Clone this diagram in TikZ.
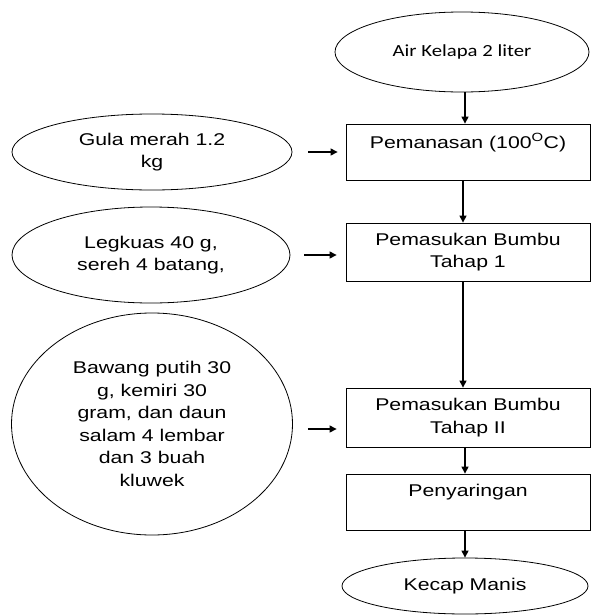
\documentclass[tikz,border=0pt]{standalone}
\usepackage{fontspec}
\setmainfont[FakeStretch=1.25]{Liberation Sans}
\newfontfamily\calibri[FakeStretch=1.22]{Carlito}
\usetikzlibrary{shapes.geometric,arrows.meta}

\begin{document}
\begin{tikzpicture}[x=1pt,y=-1pt,
		every node/.style={font=\fontsize{17}{22.5}\selectfont,align=center,inner sep=0pt},
		bahan/.style={draw,ellipse,line width=0.8pt},
		proses/.style={draw,rectangle,line width=0.8pt,minimum width=244pt},
		panah/.style={-{Triangle[length=7pt,width=7pt]},line width=1.1pt}]
			\useasboundingbox (0,0) rectangle (591,616);
			\node[bahan,minimum width=254pt,minimum height=80pt] (air) at (462,52) {\calibri Air Kelapa 2 liter};
			\node[proses,minimum height=56pt] (panas) at (468,152) {Pemanasan (100\textsuperscript{O}C)\\ ~};
			\node[proses,minimum height=58pt] (bumbu1) at (468,252) {Pemasukan Bumbu\\Tahap 1};
			\node[proses,minimum height=59pt] (bumbu2) at (468,417.5) {Pemasukan Bumbu\\Tahap II};
			\node[proses,minimum height=56pt] (saring) at (468,502) {Penyaringan\\ ~};
			\node[bahan,minimum width=246pt,minimum height=56pt] (kecap) at (465,586) {Kecap Manis};
			\node[bahan,minimum width=280pt,minimum height=76pt] (gula) at (152,152) {Gula merah 1.2\\kg};
			\node[bahan,minimum width=278pt,minimum height=96pt] (lengkuas) at (151,255) {Legkuas 40 g,\\sereh 4 batang,};
			\node[bahan,minimum width=281pt,minimum height=222pt] (bawang) at (152,424) {Bawang putih 30\\g, kemiri 30\\gram, dan daun\\salam 4 lembar\\dan 3 buah\\kluwek};
			\draw[panah] (air.south) ++(3,0) -- (panas.north -| 465,0);
			\draw[panah] (panas.south -| 463,0) -- (bumbu1.north -| 463,0);
			\draw[panah] (bumbu1.south -| 463,0) -- (bumbu2.north -| 463,0);
			\draw[panah] (bumbu2.south -| 465,0) -- (saring.north -| 465,0);
			\draw[panah] (saring.south -| 465,0) -- (kecap.north -| 465,0);
			\draw[panah,shorten <=16pt,shorten >=8pt] (gula.east) -- (gula.east -| panas.west);
			\draw[panah,shorten <=14pt,shorten >=9pt] (lengkuas.east) -- (lengkuas.east -| bumbu1.west);
			\draw[panah,shorten <=15pt,shorten >=9pt] ([yshift=-5pt]bawang.east) -- ([yshift=-5pt]bawang.east -| bumbu2.west);
		\end{tikzpicture}
\end{document}
